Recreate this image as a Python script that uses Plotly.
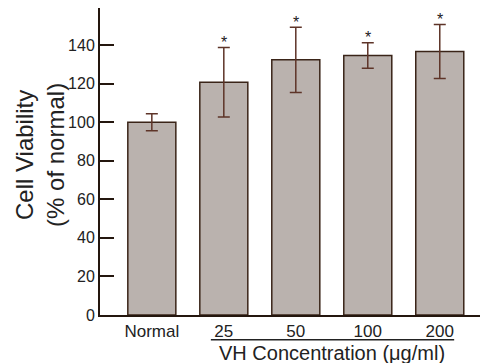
import plotly.graph_objects as go

categories = ["Normal", "25", "50", "100", "200"]
means = [100, 120.7, 132.3, 134.6, 136.6]
errors = [4.4, 18.0, 16.9, 6.6, 14.0]
significant = [False, True, True, True, True]
y_ticks = [0, 20, 40, 60, 80, 100, 120, 140]

x_idx = list(range(len(categories)))
AX = "#24160e"
FONT = "Liberation Sans, Arial, sans-serif"

fig = go.Figure()
fig.add_trace(go.Bar(
    x=x_idx, y=means, width=0.667,
    marker=dict(color="#bab2ae", line=dict(color="#3a2418", width=1.5)),
    error_y=dict(type="data", array=errors, visible=True, color="#5e3428",
                 thickness=1.5, width=6),
    showlegend=False,
))

annotations = []
for i, (m, e, s) in enumerate(zip(means, errors, significant)):
    if s:
        annotations.append(dict(x=i, y=m + e, xref="x", yref="y", text="*",
                                showarrow=False, yshift=5,
                                font=dict(size=16, color="#222", family=FONT)))
conc_idx = x_idx[1:]
annotations.append(dict(x=sum(conc_idx) / len(conc_idx), y=-0.124, xref="x", yref="paper",
                        text="VH Concentration (\u03bcg/ml)", showarrow=False,
                        yanchor="middle",
                        font=dict(size=20, color="#222", family=FONT)))
annotations.append(dict(x=-0.155, y=0.521, xref="paper", yref="paper",
                        text="Cell Viability<br>(% of normal)", showarrow=False,
                        textangle=-90, xanchor="center", yanchor="middle",
                        font=dict(size=24, color="#222", family=FONT)))

fig.add_shape(type="line", xref="x", yref="paper", x0=0.82, x1=4.2,
              y0=-0.081, y1=-0.081, line=dict(color="#222", width=1.5))

fig.update_layout(
    width=480, height=355,
    margin=dict(l=92, r=0, t=0, b=48),
    paper_bgcolor="white", plot_bgcolor="white",
    font=dict(family=FONT, color="#222"),
    annotations=annotations,
    xaxis=dict(range=[-0.72, 4.67], tickvals=x_idx, ticktext=categories,
               showline=True, linecolor=AX, linewidth=2, ticks="",
               showgrid=False, zeroline=False, tickfont=dict(size=17)),
    yaxis=dict(range=[0, 159.2], tickvals=y_ticks, showline=True, linecolor=AX,
               linewidth=2, ticks="inside", ticklen=14, tickwidth=2, tickcolor=AX,
               showgrid=False, zeroline=False, tickfont=dict(size=16)),
)

fig.write_html("out.html")
